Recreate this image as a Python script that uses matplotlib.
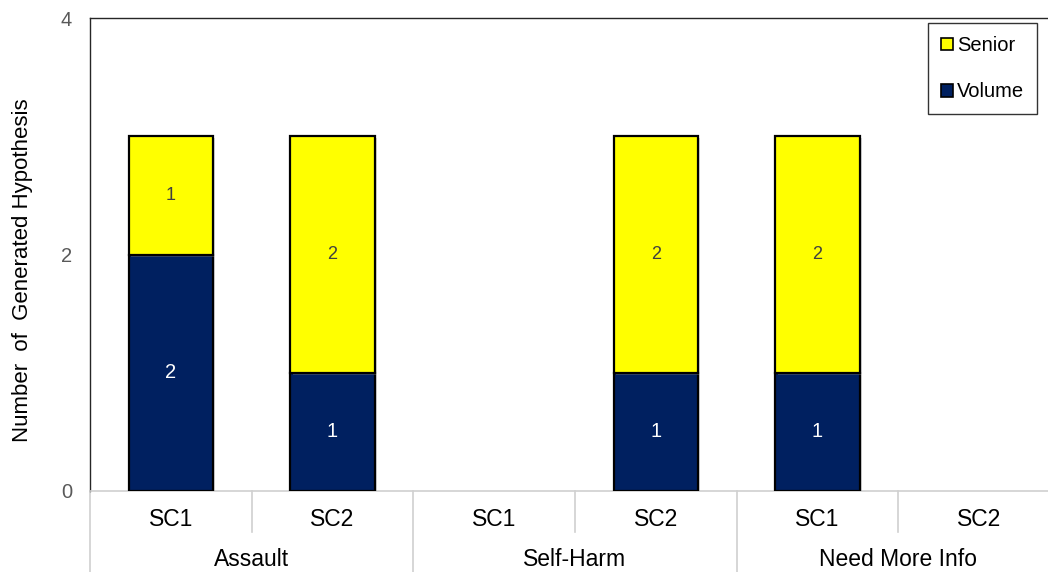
import matplotlib
matplotlib.use("Agg")
import matplotlib.pyplot as plt
import matplotlib.transforms as mtransforms
import matplotlib.patheffects as pe
from matplotlib.patches import Patch
import numpy as np

plt.rcParams['font.family'] = ['Liberation Sans', 'DejaVu Sans']

groups = ["Assault", "Self-Harm", "Need More Info"]
subcats = ["SC1", "SC2"]
volume = [2, 1, 0, 1, 1, 0]
senior = [1, 2, 0, 2, 2, 0]
yticks = [0, 2, 4]

navy = "#002060"
yellow = "#FFFF00"

fig = plt.figure(figsize=(10.48, 5.72), dpi=100)
W, H = 1048, 572
left_px, right_px, top_px, bottom_px = 90, 1060, 18, 491
ax = fig.add_axes([left_px / W, 1 - bottom_px / H,
                   (right_px - left_px) / W, (bottom_px - top_px) / H])

n = len(volume)
x = np.arange(n)
width = 0.52
shadow = [pe.SimplePatchShadow(offset=(1.5, -1.5), shadow_rgbFace="#999999", alpha=0.35), pe.Normal()]

for i in range(n):
    if volume[i] > 0:
        ax.bar(x[i], volume[i], width, color=navy, edgecolor="black", linewidth=1.6,
               zorder=3, path_effects=shadow)
        ax.text(x[i], volume[i] / 2, str(volume[i]), ha="center", va="center",
                color="white", fontsize=14.5, zorder=4)
    if senior[i] > 0:
        ax.bar(x[i], senior[i], width, bottom=volume[i], color=yellow, edgecolor="black",
               linewidth=1.6, zorder=3, path_effects=shadow)
        ax.text(x[i], volume[i] + senior[i] / 2, str(senior[i]), ha="center", va="center",
                color="#404040", fontsize=13, zorder=4)

ax.set_xlim(-0.5, n - 0.5)
ax.set_ylim(0, 4)
ax.set_yticks(yticks)
ax.set_yticklabels([str(t) for t in yticks], color="#595959", fontsize=14.5)
ax.tick_params(axis="y", length=0, pad=13)
ax.set_xticks([])
ax.set_ylabel("Number  of  Generated Hypothesis", fontsize=16)
ax.yaxis.set_label_coords((33 - left_px) / (right_px - left_px),
                          (bottom_px - 270) / (bottom_px - top_px))

ax.spines["right"].set_visible(False)
ax.spines["left"].set_color("#262626")
ax.spines["left"].set_linewidth(1.0)
ax.spines["top"].set_color("#262626")
ax.spines["top"].set_linewidth(1.0)
ax.spines["bottom"].set_color("#D0D0D0")
ax.spines["bottom"].set_linewidth(1.2)

# multi-level category axis
trans = mtransforms.blended_transform_factory(ax.transData, fig.transFigure)
y_axis = 1 - bottom_px / H
y_sub_end = 1 - 532 / H
y_grp_end = 0.0
for b in range(n + 1):
    xb = b - 0.5
    y_end = y_grp_end if b % 2 == 0 else y_sub_end
    ax.plot([xb, xb], [y_axis, y_end], transform=trans, color="#D0D0D0",
            lw=1.2, clip_on=False)

for i in range(n):
    ax.text(x[i], 1 - 520 / H, subcats[i % 2], transform=trans, ha="center",
            va="center", fontsize=16.5, color="black")
for g, name in enumerate(groups):
    ax.text(2 * g + 0.5, 1 - 559 / H, name, transform=trans, ha="center",
            va="center", fontsize=16.5, color="black")

# legend
handles = [Patch(facecolor=yellow, edgecolor="black", linewidth=1.2, label="Senior"),
           Patch(facecolor=navy, edgecolor="black", linewidth=1.2, label="Volume")]
leg = fig.legend(handles=handles, loc="upper left",
                 bbox_to_anchor=(928 / W, 1 - 23 / H), frameon=True, fancybox=False,
                 fontsize=14.5, handlelength=0.6, handleheight=0.6, handletextpad=0.2,
                 labelspacing=1.35, borderpad=0.65, borderaxespad=0)
leg.get_frame().set_edgecolor("black")
leg.get_frame().set_linewidth(1.0)

fig.savefig("out.png", dpi=100)
